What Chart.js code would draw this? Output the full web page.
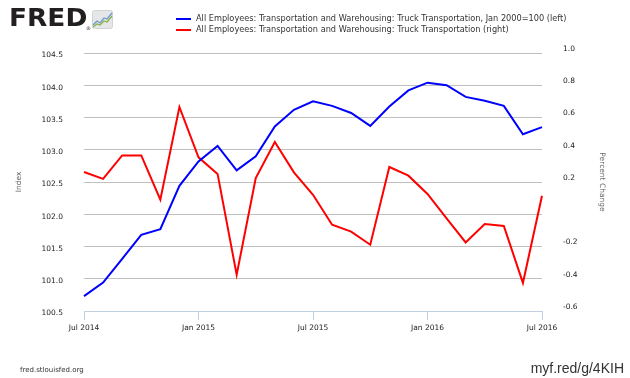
<!DOCTYPE html>
<html>
<head>
<meta charset="utf-8">
<script src="https://cdn.jsdelivr.net/npm/chart.js@4/dist/chart.umd.min.js"></script>
<style>
    body { margin: 0; background: #fff; }
    #wrap { position: relative; width: 630px; height: 378px; overflow: hidden; font-family: "DejaVu Sans", sans-serif; }
    #chart { position: absolute; left: 0; top: 0; }
    #logo { position: absolute; left: 9px; top: 4px; font: bold 24px "DejaVu Sans", sans-serif; color: #231f20; transform: scaleX(1.1); transform-origin: left top; }
    #reg { position: absolute; left: 86px; top: 25px; font: 5px "DejaVu Sans", sans-serif; color: #231f20; }
    #icon { position: absolute; left: 92px; top: 10px; }
    .leg { position: absolute; left: 176px; font: 8.2px "DejaVu Sans", sans-serif; color: #333; white-space: nowrap; }
    .leg i { display: inline-block; width: 15px; height: 2px; vertical-align: middle; margin-right: 5px; }
    #src { position: absolute; left: 20px; top: 366px; font: 7px "DejaVu Sans", sans-serif; color: #333; }
    #short { position: absolute; right: 6px; top: 360px; font: 14px "Liberation Sans", sans-serif; color: #333; }
</style>
</head>
<body>
<div id="wrap">
    <canvas id="chart" width="630" height="378"></canvas>
    <div id="logo">FRED</div>
    <div id="reg">®</div>
    <svg id="icon" width="21" height="19" viewBox="0 0 21 19">
        <rect x="0.5" y="0.5" width="20" height="18" rx="2" fill="#e4e6e8" stroke="#d0d3d6"/>
        <polyline points="1,15 5,11 8,13 12,8 15,9 20,3" fill="none" stroke="#6c9ac8" stroke-width="1.3"/>
        <polyline points="1,17 5,14 8,15 12,11 15,12 20,6" fill="none" stroke="#8ab04a" stroke-width="1.3"/>
    </svg>
    <div class="leg" style="top:13px"><i style="background:#0000ff"></i>All Employees: Transportation and Warehousing: Truck Transportation, Jan 2000=100 (left)</div>
    <div class="leg" style="top:24px"><i style="background:#ff0000"></i>All Employees: Transportation and Warehousing: Truck Transportation (right)</div>
    <div id="src">fred.stlouisfed.org</div>
    <div id="short">myf.red/g/4KIH</div>
</div>
<script>
// ===============================
// DATA (monthly, Jul 2014 - Jul 2016)
// ===============================
const months = [
    "Jul 2014", "Aug 2014", "Sep 2014", "Oct 2014", "Nov 2014", "Dec 2014",
    "Jan 2015", "Feb 2015", "Mar 2015", "Apr 2015", "May 2015", "Jun 2015",
    "Jul 2015", "Aug 2015", "Sep 2015", "Oct 2015", "Nov 2015", "Dec 2015",
    "Jan 2016", "Feb 2016", "Mar 2016", "Apr 2016", "May 2016", "Jun 2016",
    "Jul 2016"
];

// Index, Jan 2000=100 (left axis)
const indexValues = [
    100.73, 100.94, 101.31, 101.68, 101.77, 102.44,
    102.82, 103.06, 102.68, 102.90, 103.36, 103.62,
    103.75, 103.68, 103.57, 103.37, 103.67, 103.92,
    104.04, 104.00, 103.82, 103.76, 103.68, 103.24,
    103.35
];

// Percent change (right axis)
const pctChange = [
    0.262, 0.219, 0.365, 0.365, 0.090, 0.665,
    0.353, 0.250, -0.375, 0.225, 0.448, 0.260,
    0.121, -0.065, -0.108, -0.189, 0.293, 0.239,
    0.126, -0.026, -0.175, -0.061, -0.073, -0.426,
    0.115
];

const leftTicks = { min: 100.5, max: 104.5, step: 0.5 };
const rightTicks = { min: -0.6, max: 1.0, step: 0.2 };

// ===============================
// CHART
// ===============================
const tickFont = { family: "DejaVu Sans", size: 7.5 };
const titleFont = { family: "DejaVu Sans", size: 7.5 };

new Chart(document.getElementById("chart"), {
    type: "line",
    data: {
        labels: months,
        datasets: [{
            label: "All Employees: Transportation and Warehousing: Truck Transportation, Jan 2000=100 (left)",
            data: indexValues,
            borderColor: "#0000ff",
            borderWidth: 2,
            pointRadius: 0,
            tension: 0,
            yAxisID: "yLeft"
        }, {
            label: "All Employees: Transportation and Warehousing: Truck Transportation (right)",
            data: pctChange,
            borderColor: "#ff0000",
            borderWidth: 2,
            pointRadius: 0,
            tension: 0,
            yAxisID: "yRight"
        }]
    },
    options: {
        responsive: false,
        animation: false,
        devicePixelRatio: 1,
        layout: { padding: { top: 53, left: 0, right: 0, bottom: 0 } },
        plugins: {
            legend: { display: false },
            tooltip: { enabled: false }
        },
        scales: {
            x: {
                offset: false,
                afterFit: s => { s.height = 67; },
                border: { color: "#c0d0e0" },
                grid: {
                    drawOnChartArea: false,
                    drawTicks: true,
                    tickLength: 9,
                    color: "#c0d0e0"
                },
                ticks: {
                    autoSkip: false,
                    maxRotation: 0,
                    padding: 4,
                    color: "#222",
                    font: tickFont,
                    callback: function (value) {
                        const lab = this.getLabelForValue(value);
                        return (lab.startsWith("Jan") || lab.startsWith("Jul")) ? lab : null;
                    }
                }
            },
            yLeft: {
                position: "left",
                min: leftTicks.min,
                max: leftTicks.max,
                afterFit: s => { s.width = 84; },
                border: { display: false },
                grid: {
                    drawTicks: false,
                    color: ctx => ctx.tick && ctx.tick.value === leftTicks.min ? "rgba(0,0,0,0)" : "#c0c0c0"
                },
                ticks: {
                    stepSize: leftTicks.step,
                    padding: 21,
                    labelOffset: 2.5,
                    color: "#222",
                    font: tickFont,
                    callback: v => v.toFixed(1)
                },
                title: {
                    display: true,
                    text: "Index",
                    color: "#666",
                    font: titleFont,
                    padding: { top: 15, bottom: 0 }
                }
            },
            yRight: {
                position: "right",
                min: rightTicks.min,
                max: rightTicks.max,
                afterFit: s => { s.width = 88; },
                border: { display: false },
                grid: { drawOnChartArea: false, drawTicks: false },
                ticks: {
                    stepSize: rightTicks.step,
                    padding: 21,
                    labelOffset: -4,
                    color: "#222",
                    font: tickFont,
                    callback: v => Math.abs(v) < 1e-9 ? "" : v.toFixed(1)
                },
                title: {
                    display: true,
                    text: "Percent Change",
                    color: "#666",
                    font: titleFont,
                    padding: { top: 24, bottom: 0 }
                }
            }
        }
    }
});
</script>
</body>
</html>
